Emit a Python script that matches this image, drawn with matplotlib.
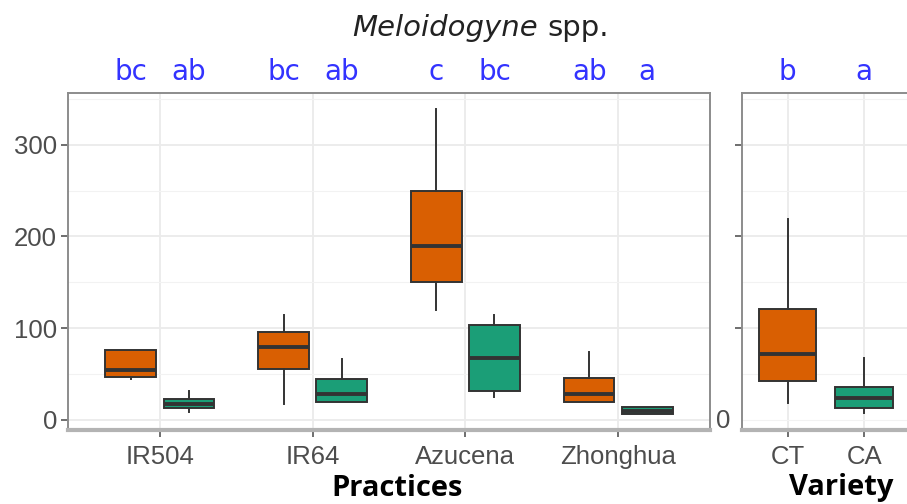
import matplotlib
matplotlib.use("Agg")
import matplotlib.pyplot as plt
from matplotlib.transforms import blended_transform_factory
from matplotlib.ticker import MultipleLocator

# ---- data ----
practices = ["IR504", "IR64", "Azucena", "Zhonghua"]
# five-number summaries: (whislo, q1, med, q3, whishi)
ct_practices = [
    (45, 47, 54, 76, 76),
    (17, 56, 80, 96, 114),
    (120, 150, 190, 249, 339),
    (19, 19, 28, 46, 74),
]
ca_practices = [
    (9, 13, 17, 23, 31),
    (19, 19, 28, 45, 66),
    (25, 32, 67, 103, 114),
    (6, 6.5, 10, 14.5, 14.5),
]
letters_ct_practices = ["bc", "bc", "c", "ab"]
letters_ca_practices = ["ab", "ab", "bc", "a"]

variety = ["CT", "CA"]
variety_stats = [
    (18, 42, 72, 121, 219),
    (7, 13, 24, 36, 67),
]
letters_variety = ["b", "a"]

ORANGE = "#D95F02"
GREEN = "#1B9E77"
EDGE = "#333333"
TICKC = "#4D4D4D"
BLUE = "#3333FF"

W, H = 907, 504
fig = plt.figure(figsize=(W / 100, H / 100), dpi=100)
fig.patch.set_facecolor("white")


def fx(px):
    return px / W


def fy(py):
    return 1 - py / H


ax1 = fig.add_axes([fx(68), fy(430), fx(710) - fx(68), fy(93.3) - fy(430)])
ax2 = fig.add_axes([fx(741.7), fy(430), fx(910) - fx(741.7), fy(93.3) - fy(430)])


def stats(vals):
    lo, q1, med, q3, hi = vals
    return dict(whislo=lo, q1=q1, med=med, q3=q3, whishi=hi, fliers=[])


def draw(ax, st, pos, width, colors):
    b = ax.bxp([stats(s) for s in st], positions=pos, widths=width,
               patch_artist=True, showcaps=False, showfliers=False,
               boxprops=dict(edgecolor=EDGE, linewidth=1.4),
               medianprops=dict(color=EDGE, linewidth=2.8),
               whiskerprops=dict(color=EDGE, linewidth=1.4),
               manage_ticks=False, zorder=3)
    for patch, c in zip(b["boxes"], colors):
        patch.set_facecolor(c)
    return b


off = 0.19
bw = 0.33
pos_ct = [i + 1 - off for i in range(len(practices))]
pos_ca = [i + 1 + off for i in range(len(practices))]
draw(ax1, ct_practices, pos_ct, bw, [ORANGE] * len(practices))
draw(ax1, ca_practices, pos_ca, bw, [GREEN] * len(practices))

pos_v = [1, 2]
draw(ax2, variety_stats, pos_v, 0.75, [ORANGE, GREEN])

for ax, xl in [(ax1, (0.4, 4.6)), (ax2, (0.4, 2.6))]:
    ax.set_xlim(*xl)
    ax.set_ylim(-11, 356)
    ax.yaxis.set_major_locator(MultipleLocator(100))
    ax.yaxis.set_minor_locator(MultipleLocator(50))
    ax.grid(True, which="major", color="#EBEBEB", linewidth=1.3, zorder=0)
    ax.grid(True, which="minor", axis="y", color="#F2F2F2", linewidth=0.8, zorder=0)
    ax.set_axisbelow(True)
    for s in ["left", "top", "right"]:
        ax.spines[s].set_color("#8C8C8C")
        ax.spines[s].set_linewidth(1.4)
    ax.spines["bottom"].set_color("#B3B3B3")
    ax.spines["bottom"].set_linewidth(3.0)
    ax.tick_params(axis="both", which="major", length=5, width=1.2, color="#555555",
                   labelcolor=TICKC, labelsize=18.5)
    ax.tick_params(axis="y", which="minor", length=0)

ax1.set_xticks(range(1, len(practices) + 1))
ax1.set_xticklabels(practices, fontfamily="Liberation Sans")
ax1.set_yticks([0, 100, 200, 300])
ax1.set_yticklabels(["0", "100", "200", "300"], fontfamily="Liberation Sans")
ax1.tick_params(axis="y", pad=3)
ax1.tick_params(axis="x", pad=6)

ax2.set_xticks([1, 2])
ax2.set_xticklabels(variety, fontfamily="Liberation Sans")
ax2.set_yticks([100, 200, 300])
ax2.set_yticklabels([])
ax2.tick_params(axis="x", pad=6)

# stray "0" label between panels
fig.text(fx(723), fy(421), "0", ha="center", va="center", color=TICKC,
         fontsize=18.5, family="Liberation Sans")

# significance letters
ly = fy(72)
t1 = blended_transform_factory(ax1.transData, fig.transFigure)
for p, l in zip(pos_ct, letters_ct_practices):
    fig.text(p, ly, l, transform=t1, ha="center", va="center", color=BLUE,
             fontsize=20, family="DejaVu Sans")
for p, l in zip(pos_ca, letters_ca_practices):
    fig.text(p, ly, l, transform=t1, ha="center", va="center", color=BLUE,
             fontsize=20, family="DejaVu Sans")
t2 = blended_transform_factory(ax2.transData, fig.transFigure)
for p, l in zip(pos_v, letters_variety):
    fig.text(p, ly, l, transform=t2, ha="center", va="center", color=BLUE,
             fontsize=20, family="DejaVu Sans")

# title
fig.text(fx(538), fy(28), "Meloidogyne", ha="right", va="center", style="italic",
         color="#222222", fontsize=21, family="DejaVu Sans")
fig.text(fx(547), fy(28), "spp.", ha="left", va="center",
         color="#222222", fontsize=21, family="DejaVu Sans")

# axis titles
fig.text(fx(397), fy(488), "Practices", ha="center", va="center", fontweight="bold",
         color="black", fontsize=21, family="Open Sans")
fig.text(fx(841), fy(488), "Variety", ha="center", va="center", fontweight="bold",
         color="black", fontsize=21, family="Open Sans")

fig.savefig("out.png", dpi=100, facecolor="white")
